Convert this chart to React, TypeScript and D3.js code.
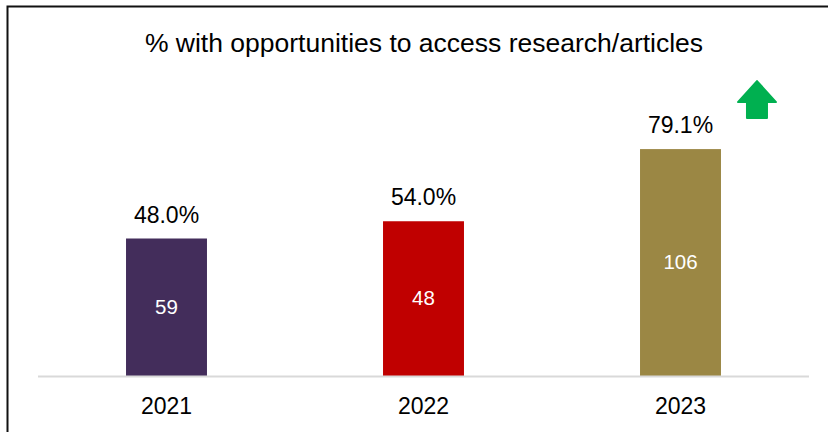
import React from "react";
import * as d3 from "d3";

const years = ["2021", "2022", "2023"];
const percents = [48.0, 54.0, 79.1];
const counts = [59, 48, 106];
const colors = ["#432D5B", "#C00000", "#9B8744"];
const title = "% with opportunities to access research/articles";

const W = 828;
const H = 432;

export default function App() {
  const x = d3.scaleBand<string>().domain(years).range([38, 809]).paddingInner(0.685).paddingOuter(0.3425);
  const y = d3.scaleLinear().domain([0, 100]).range([376.5, 89]);
  const font = "'Liberation Sans', Arial, sans-serif";
  const bw = x.bandwidth();
  const last = years[years.length - 1];
  const ax = (x(last) as number) + bw + 36;
  const ay = y(percents[percents.length - 1]) - 68;
  const arrow = d3.path();
  arrow.moveTo(ax, ay);
  arrow.lineTo(ax + 19, ay + 21);
  arrow.lineTo(ax + 10, ay + 21);
  arrow.lineTo(ax + 10, ay + 37);
  arrow.lineTo(ax - 10, ay + 37);
  arrow.lineTo(ax - 10, ay + 21);
  arrow.lineTo(ax - 19, ay + 21);
  arrow.closePath();

  return (
    <div style={{ position: "fixed", left: 0, top: 0 }}>
      <svg width={W} height={H} style={{ display: "block", background: "#fff" }}>
        <rect x={0} y={0} width={W} height={H} fill="#fff" />
        <path d={`M7.5,${H} L7.5,6.5 L${W},6.5`} fill="none" stroke="#111" strokeWidth={2} />
        <text x={424} y={52} textAnchor="middle" fontFamily={font} fontSize={26.5} fill="#000">
          {title}
        </text>
        {years.map((yr, i) => (
          <g key={yr}>
            <rect x={x(yr)} y={y(percents[i])} width={bw} height={y(0) - y(percents[i])} fill={colors[i]} />
            <text
              x={(x(yr) as number) + bw / 2}
              y={y(percents[i]) - 16}
              textAnchor="middle"
              fontFamily={font}
              fontSize={23}
              fill="#000"
            >
              {percents[i].toFixed(1) + "%"}
            </text>
            <text
              x={(x(yr) as number) + bw / 2}
              y={(y(percents[i]) + y(0)) / 2 + 6}
              textAnchor="middle"
              fontFamily={font}
              fontSize={20.5}
              fill="#fff"
            >
              {counts[i]}
            </text>
            <text
              x={(x(yr) as number) + bw / 2}
              y={414}
              textAnchor="middle"
              fontFamily={font}
              fontSize={23}
              fill="#000"
            >
              {yr}
            </text>
          </g>
        ))}
        <line x1={38} x2={809} y1={y(0)} y2={y(0)} stroke="#D9D9D9" strokeWidth={2} />
        <path d={arrow.toString()} fill="#00B050" stroke="#00B050" strokeWidth={2} strokeLinejoin="round" />
      </svg>
    </div>
  );
}
